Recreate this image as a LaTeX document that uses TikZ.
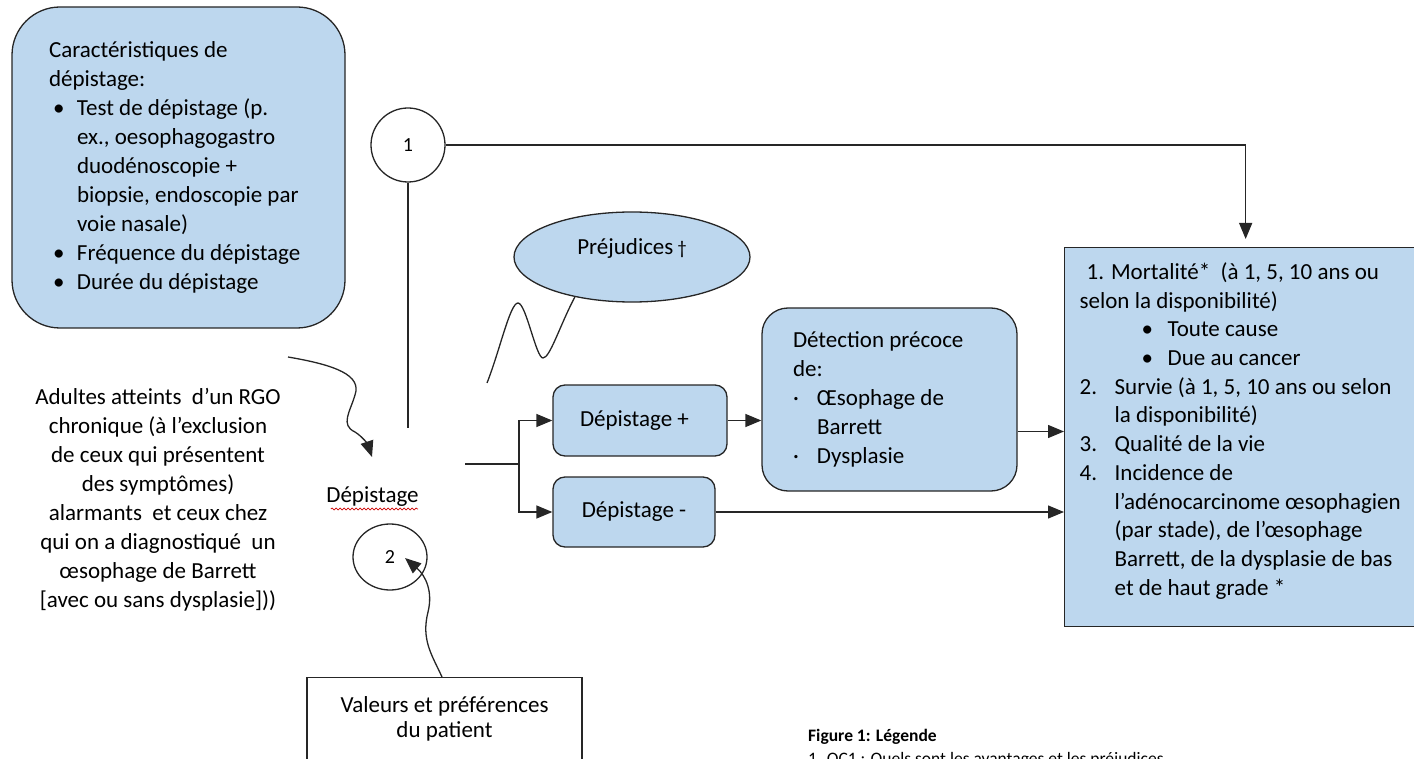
\documentclass[tikz,border=0pt]{standalone}
\usepackage{fontspec}
\setmainfont{Carlito}
\usetikzlibrary{shapes.geometric,arrows.meta,decorations.pathmorphing}
\definecolor{bleuclair}{RGB}{189,215,238}
\definecolor{trait}{RGB}{38,38,38}

\newcommand{\puce}{\makebox[28pt][l]{\hspace{4pt}\textbullet}}
\newcommand{\retrait}{\hspace*{28pt}}
\newcommand{\numero}[1]{\makebox[35pt][l]{#1}}
\newcommand{\alinea}{\hspace*{35pt}}

\begin{document}
\begin{tikzpicture}[x=1pt,y=-1pt,
  font=\fontsize{23}{29}\selectfont,
  boite/.style={draw=trait,line width=1.3pt,fill=bleuclair},
  ligne/.style={draw=trait,line width=1.3pt},
  fleche/.style={draw=trait,line width=1.3pt,-{Triangle[length=16pt,width=13pt]}},
  rond/.style={draw=trait,line width=1.3pt,circle,minimum size=74pt,inner sep=0pt,font=\fontsize{20}{22}\selectfont}]
\useasboundingbox (0,0) rectangle (1414,759);
\clip (0,0) rectangle (1414,759);

% boites
\node[boite,rounded corners=48,minimum width=333,minimum height=321,text width=259,inner xsep=37,align=flush left] (carac) at (178.5,167.5)
  {Caractéristiques de\\dépistage:\\\puce Test de dépistage (p.\\\retrait ex., oesophagogastro\\\retrait duodénoscopie +\\\retrait biopsie, endoscopie par\\\retrait voie nasale)\\\puce Fréquence du dépistage\\\puce Durée du dépistage};
\node[align=center] (adultes) at (158,499.5)
  {Adultes atteints\ \ d’un RGO\\chronique (à l’exclusion\\de ceux qui présentent\\des symptômes)\\alarmants\ \ et ceux chez\\qui on a diagnostiqué\ \ un\\œsophage de Barrett\\{}[avec ou sans dysplasie]))};
\node[rond] (q1) at (408,145) {1};
\node[anchor=base] (depist) at (372.5,502) {Dépistage};
\node[rond,ellipse,minimum width=74,minimum height=66] (q2) at (390,557) {2};
\node[boite,ellipse,minimum width=236,minimum height=90,inner sep=0pt,text depth=20pt] (prejud) at (632,257)
  {Préjudices\,{\fontsize{19}{20}\selectfont †}};
\node[boite,rounded corners=12,minimum width=174,minimum height=71,text width=120,inner xsep=27,align=flush left] (dplus) at (640,420.5) {Dépistage +};
\node[boite,rounded corners=12,minimum width=162,minimum height=70] (dmoins) at (634,512) {Dépistage -};
\node[boite,rounded corners=26,minimum width=255,minimum height=183,text width=193,inner xsep=31,align=flush left] (detect) at (889.5,399.5)
  {Détection précoce\\de:\\\makebox[24pt][l]{·}Œsophage de\\\hspace*{24pt}Barrett\\\makebox[24pt][l]{·}Dysplasie};
\node[boite,anchor=north west,text width=340,inner xsep=15,inner ysep=15,text depth=332pt,align=flush left,font=\fontsize{23}{28.7}\selectfont] (resultats) at (1064,247)
  {\hspace*{7pt}1. Mortalité*\ \ (à 1, 5, 10 ans ou\\
   selon la disponibilité)\\
   \hspace*{62pt}\makebox[26pt][l]{\textbullet}Toute cause\\
   \hspace*{62pt}\makebox[26pt][l]{\textbullet}Due au cancer\\
   \numero{2.}Survie (à 1, 5, 10 ans ou selon\\
   \alinea la disponibilité)\\
   \numero{3.}Qualité de la vie\\
   \numero{4.}Incidence de\\
   \alinea l’adénocarcinome œsophagien\\
   \alinea (par stade), de l’œsophage\\
   \alinea Barrett, de la dysplasie de bas\\
   \alinea et de haut grade *};
\node[draw=trait,line width=1.3pt,anchor=north,minimum width=275,text width=245,inner ysep=19,text depth=80pt,align=flush center,font=\fontsize{23}{25}\selectfont] (valeurs) at (444.5,677)
  {Valeurs et préférences\\du patient};
\node[anchor=base west,inner sep=0pt,font=\bfseries\fontsize{17.5}{21}\selectfont] (legende) at (808,741) {Figure 1: Légende};
\node[anchor=base west,inner sep=0pt,font=\fontsize{17.5}{21}\selectfont] (qc1) at (808,764) {1. QC1 : Quels sont les avantages et les préjudices};

% liens
\coordinate (depart) at (465,464);
\coordinate (fourche) at (519,464);
\coordinate (q1bas) at (408,428);
\coordinate (adultesfl) at (288,357);
\coordinate (vague) at (487,383);
\draw[ligne] (q1) -- (q1bas);
\draw[fleche,shorten >=8pt] (q1) -| ([xshift=-4pt]resultats.north);
\draw[ligne] (depart) -- (fourche);
\draw[fleche] (fourche) |- (dplus.west);
\draw[fleche] (fourche) |- (dmoins.west);
\draw[fleche] (dplus.east) -- (dplus.east -| detect.west);
\draw[fleche] ([yshift=-32pt]detect.east) -- ([yshift=-32pt]detect.east -| resultats.west);
\draw[fleche] (dmoins.east) -- (dmoins.east -| resultats.west);
\draw[fleche] (adultesfl) .. controls (335,365) and (362,375) .. (355,395)
  .. controls (350,412) and (340,425) .. (355,432) .. controls (363,437) and (368,445) .. (372,457);
\draw[fleche] ([xshift=-2.5pt]valeurs.north) .. controls (432,655) and (421,640) .. (428,612)
  .. controls (433,592) and (426,576) .. (405,558);
\draw[ligne] (vague) .. controls (500,350) and (510,303) .. (518,303)
  .. controls (526,303) and (536,358) .. (543,358) .. controls (550,358) and (560,325) .. (prejud.215);
% soulignement rouge
\draw[red!80!black,line width=0.7pt,decorate,decoration={snake,amplitude=1pt,segment length=4pt}]
  ([xshift=8pt,yshift=-7pt]depist.base west) -- ([xshift=-4pt,yshift=-7pt]depist.base east);
\end{tikzpicture}
\end{document}
